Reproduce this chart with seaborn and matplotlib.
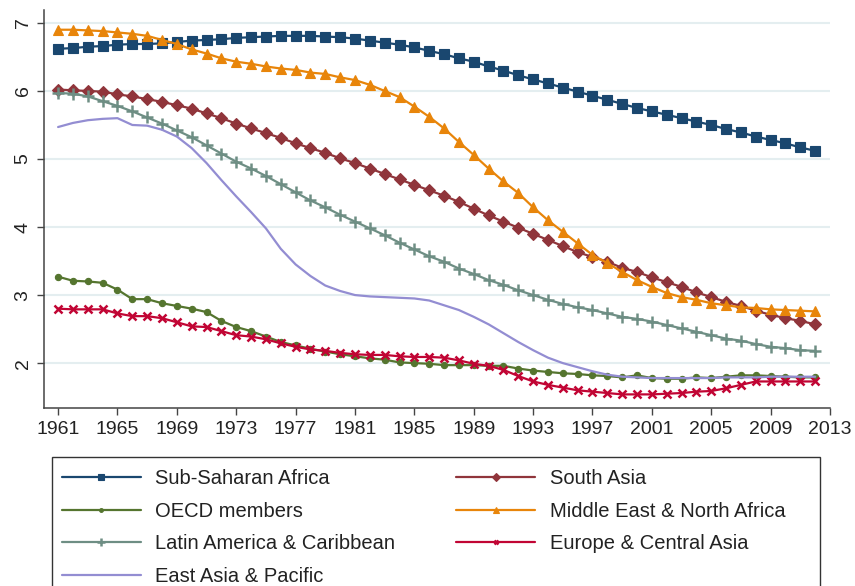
import matplotlib
matplotlib.use("Agg")
import matplotlib.pyplot as plt
from matplotlib.patches import Rectangle
import pandas as pd
import seaborn as sns

# Total fertility rate (births per woman) by region
years = list(range(1961, 2013))

sub_saharan_africa = [6.62, 6.63, 6.65, 6.66, 6.68, 6.69, 6.69, 6.70, 6.72, 6.74,
                      6.75, 6.76, 6.78, 6.79, 6.80, 6.81, 6.81, 6.81, 6.80, 6.79,
                      6.77, 6.74, 6.71, 6.68, 6.64, 6.59, 6.54, 6.48, 6.43, 6.36,
                      6.30, 6.23, 6.17, 6.11, 6.05, 5.99, 5.93, 5.87, 5.81, 5.75,
                      5.70, 5.65, 5.60, 5.55, 5.50, 5.44, 5.39, 5.33, 5.28, 5.23,
                      5.17, 5.12]
south_asia = [6.02, 6.01, 6.00, 5.99, 5.95, 5.92, 5.88, 5.84, 5.79, 5.74,
              5.67, 5.60, 5.52, 5.45, 5.38, 5.31, 5.23, 5.16, 5.09, 5.01,
              4.94, 4.86, 4.78, 4.70, 4.62, 4.54, 4.46, 4.37, 4.27, 4.17,
              4.08, 3.99, 3.90, 3.81, 3.72, 3.63, 3.56, 3.49, 3.40, 3.34,
              3.26, 3.19, 3.12, 3.04, 2.97, 2.90, 2.84, 2.77, 2.71, 2.66,
              2.62, 2.57]
oecd_members = [3.27, 3.21, 3.20, 3.18, 3.08, 2.94, 2.94, 2.88, 2.84, 2.80,
                2.75, 2.62, 2.53, 2.47, 2.39, 2.31, 2.26, 2.21, 2.17, 2.13,
                2.10, 2.07, 2.05, 2.01, 2.00, 1.99, 1.97, 1.97, 1.97, 1.96,
                1.96, 1.92, 1.89, 1.87, 1.85, 1.84, 1.82, 1.81, 1.79, 1.82,
                1.78, 1.77, 1.77, 1.79, 1.78, 1.80, 1.82, 1.82, 1.81, 1.80,
                1.79, 1.79]
middle_east_north_africa = [6.90, 6.90, 6.89, 6.88, 6.86, 6.84, 6.81, 6.75, 6.69, 6.61,
                            6.55, 6.48, 6.43, 6.40, 6.36, 6.33, 6.31, 6.27, 6.25, 6.20,
                            6.16, 6.09, 6.00, 5.91, 5.77, 5.62, 5.45, 5.25, 5.06, 4.86,
                            4.67, 4.50, 4.29, 4.10, 3.93, 3.76, 3.59, 3.47, 3.34, 3.22,
                            3.12, 3.03, 2.97, 2.93, 2.88, 2.85, 2.82, 2.81, 2.79, 2.78,
                            2.77, 2.76]
latin_america_caribbean = [5.97, 5.96, 5.92, 5.85, 5.78, 5.70, 5.61, 5.52, 5.42, 5.32,
                           5.20, 5.08, 4.96, 4.86, 4.75, 4.63, 4.51, 4.39, 4.29, 4.18,
                           4.08, 3.98, 3.88, 3.77, 3.67, 3.57, 3.49, 3.39, 3.31, 3.22,
                           3.15, 3.07, 3.00, 2.93, 2.87, 2.82, 2.78, 2.73, 2.68, 2.65,
                           2.61, 2.56, 2.51, 2.46, 2.41, 2.36, 2.33, 2.28, 2.24, 2.22,
                           2.19, 2.18]
europe_central_asia = [2.80, 2.79, 2.79, 2.79, 2.73, 2.69, 2.69, 2.66, 2.60, 2.54,
                       2.53, 2.47, 2.41, 2.39, 2.35, 2.29, 2.24, 2.20, 2.18, 2.15,
                       2.13, 2.12, 2.12, 2.10, 2.09, 2.09, 2.08, 2.04, 1.99, 1.96,
                       1.90, 1.81, 1.73, 1.68, 1.64, 1.60, 1.58, 1.56, 1.54, 1.54,
                       1.54, 1.55, 1.56, 1.58, 1.59, 1.63, 1.68, 1.73, 1.73, 1.73,
                       1.73, 1.73]
east_asia_pacific = [5.47, 5.53, 5.57, 5.59, 5.60, 5.50, 5.49, 5.43, 5.33, 5.16,
                     4.94, 4.69, 4.45, 4.22, 3.98, 3.68, 3.45, 3.28, 3.14, 3.06,
                     3.00, 2.98, 2.97, 2.96, 2.95, 2.92, 2.85, 2.78, 2.68, 2.57,
                     2.44, 2.31, 2.19, 2.08, 2.00, 1.94, 1.88, 1.83, 1.80, 1.79,
                     1.78, 1.78, 1.78, 1.78, 1.78, 1.79, 1.79, 1.79, 1.80, 1.80,
                     1.80, 1.80]

region_names = ["Sub-Saharan Africa", "South Asia", "OECD members",
                "Middle East & North Africa", "Latin America & Caribbean",
                "Europe & Central Asia", "East Asia & Pacific"]
region_values = [sub_saharan_africa, south_asia, oecd_members,
                 middle_east_north_africa, latin_america_caribbean,
                 europe_central_asia, east_asia_pacific]

df = pd.DataFrame({"Year": years})
for name, vals in zip(region_names, region_values):
    df[name] = vals

# Stata s2color-like palette and marker symbols
styles = {
    "Sub-Saharan Africa": dict(color="#1a476f", marker="s", markersize=6.5, markeredgewidth=0.8),
    "South Asia": dict(color="#90353b", marker="D", markersize=6.5, markeredgewidth=0.8),
    "OECD members": dict(color="#55752f", marker="o", markersize=4.5, markeredgewidth=0.8),
    "Middle East & North Africa": dict(color="#e8850a", marker="^", markersize=7, markeredgewidth=0.8),
    "Latin America & Caribbean": dict(color="#6e8e84", marker="+", markersize=9, markeredgewidth=1.8),
    "Europe & Central Asia": dict(color="#c10534", marker="x", markersize=6, markeredgewidth=1.8),
    "East Asia & Pacific": dict(color="#938dd2"),
}

sns.set_theme(style="white")
plt.rcParams["font.family"] = ["Liberation Sans", "DejaVu Sans"]

fig = plt.figure(figsize=(8.55, 5.86), dpi=100)
ax = fig.add_axes([44 / 855, 1 - 408 / 586, (830 - 44) / 855, (408 - 10) / 586])

for name in region_names:
    st = dict(styles[name])
    c = st.pop("color")
    extra = {}
    if "marker" in st:
        extra = dict(markeredgecolor=c, markerfacecolor=c, **st)
    sns.lineplot(data=df, x="Year", y=name, ax=ax, color=c, linewidth=1.6,
                 label=name, legend=False, **extra)

ax.set_xlim(1960.05, 2013)
ax.set_ylim(1.34, 7.19)
ax.set_xticks(list(range(1961, 2014, 4)))
ax.set_yticks([2, 3, 4, 5, 6, 7])
ax.set_xlabel("")
ax.set_ylabel("")

ax.yaxis.grid(True, color="#e4eef0", linewidth=1.5)
ax.xaxis.grid(False)
ax.set_axisbelow(True)

for side in ["top", "right"]:
    ax.spines[side].set_visible(False)
for side in ["left", "bottom"]:
    ax.spines[side].set_color("#444444")
    ax.spines[side].set_linewidth(1.1)

ax.tick_params(axis="both", which="major", direction="out", length=5, width=1.0,
               color="#444444", labelsize=14, labelcolor="#222222", pad=4)
ax.tick_params(axis="x", bottom=True)
ax.tick_params(axis="y", left=True)
plt.setp(ax.get_yticklabels(), rotation=90, va="center")

# Legend below the plot: two columns, entries ordered row by row
handles, labels = ax.get_legend_handles_labels()
order = [0, 2, 4, 6, 1, 3, 5]
leg = fig.legend([handles[i] for i in order], [labels[i] for i in order],
                 loc="upper left",
                 bbox_to_anchor=(62 / 855, 1 - 469 / 586),
                 ncol=2, frameon=False, fontsize=14.5, handlelength=3.9,
                 handletextpad=0.72, labelspacing=0.68, columnspacing=3.05,
                 markerscale=0.6, borderpad=0, borderaxespad=0)
for t in leg.get_texts():
    t.set_color("#222222")

# Legend box, running off the bottom edge of the figure
fig.patches.append(Rectangle((51.5 / 855, -0.05), (820 - 51.5) / 855,
                             1 - 457 / 586 + 0.05, transform=fig.transFigure,
                             fill=False, edgecolor="#333333", linewidth=1.0))

fig.savefig("out.png", dpi=100, facecolor="white")
